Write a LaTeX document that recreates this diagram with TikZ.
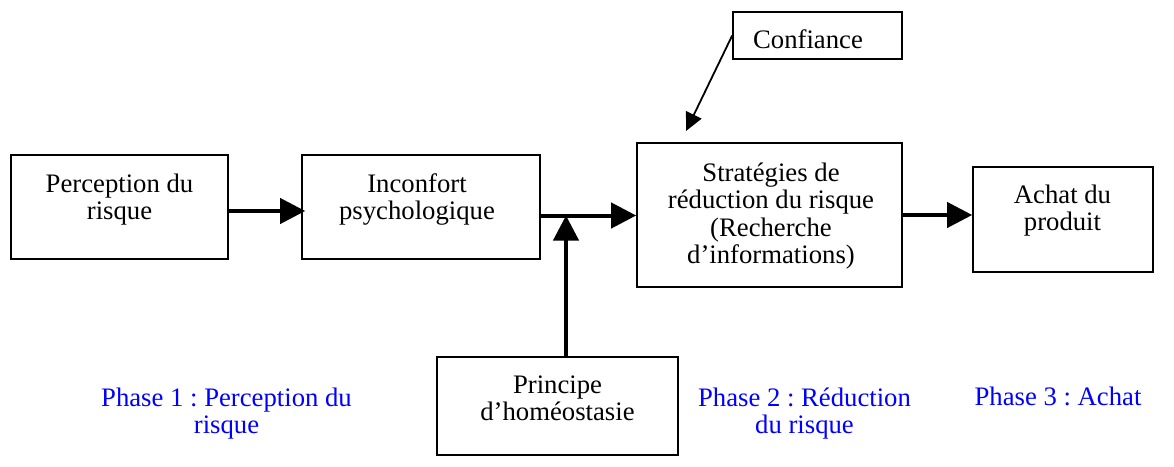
\documentclass[tikz,border=0pt]{standalone}
\usepackage{fontspec}
\setmainfont{Liberation Serif}
\usetikzlibrary{arrows.meta}
\definecolor{phaseblue}{RGB}{0,0,255}
\frenchspacing
\begin{document}
\begin{tikzpicture}[x=1pt,y=-1pt,
  box/.style={draw=black, line width=1.6pt, fill=white, inner sep=0pt},
  txt/.style={inner sep=0pt, anchor=base, font=\fontsize{26.7}{27.5}\selectfont},
  phase/.style={txt, text=phaseblue},
  flow/.style={line width=4pt, -{Triangle[length=25pt,width=25pt]}},
  confarrow/.style={line width=1.8pt, -{Triangle[length=18pt,width=17pt]}}]
\useasboundingbox (0,0) rectangle (1174,466);

% boxes
\node[box, minimum width=217pt, minimum height=104pt] (perc)  at (119.5,207)  {};
\node[box, minimum width=238pt, minimum height=104pt] (inco)  at (421,207)    {};
\node[box, minimum width=265pt, minimum height=144pt] (strat) at (769.5,215)  {};
\node[box, minimum width=180pt, minimum height=105pt] (achat) at (1063,219.5) {};
\node[box, minimum width=169pt, minimum height=47pt]  (conf)  at (817.5,35.5) {};
\node[box, minimum width=241pt, minimum height=98pt]  (prin)  at (557.5,406)  {};

% box texts
\node[txt] (percT)  at (119.5,192) {\begin{tabular}[t]{@{}c@{}}Perception du\\risque\end{tabular}};
\node[txt] (incoT)  at (417,192)   {\begin{tabular}[t]{@{}c@{}}Inconfort\\psychologique\end{tabular}};
\node[txt] (stratT) at (771,181)   {\begin{tabular}[t]{@{}c@{}}Stratégies de\\réduction du risque\\(Recherche\\d’informations)\end{tabular}};
\node[txt] (achatT) at (1062.5,203) {\begin{tabular}[t]{@{}c@{}}Achat du\\produit\end{tabular}};
\node[txt] (confT)  at (808,48)    {Confiance};
\node[txt] (prinT)  at (557.5,393) {\begin{tabular}[t]{@{}c@{}}Principe\\d’homéostasie\end{tabular}};

% phase captions
\node[phase] (ph1) at (226.5,406) {\begin{tabular}[t]{@{}c@{}}Phase 1 : Perception du\\risque\end{tabular}};
\node[phase] (ph2) at (804.5,406) {\begin{tabular}[t]{@{}c@{}}Phase 2 : Réduction\\du risque\end{tabular}};
\node[phase] (ph3) at (1058,405)  {Phase 3 : Achat};

% connectors
\coordinate (join) at (566,215.5);
\coordinate (confTip) at (686,131);
\draw[flow, shorten >=-4pt] ([yshift=-4pt]perc.east) -- ([yshift=-4pt]inco.west);
\draw[flow] (inco.east |- join) -- (strat.west |- join);
\draw[flow] (prin.north -| join) -- (join);
\draw[flow] (strat.east) -- (achat.west |- strat.east);
\draw[confarrow] (conf.west) -- (confTip);
\end{tikzpicture}
\end{document}
